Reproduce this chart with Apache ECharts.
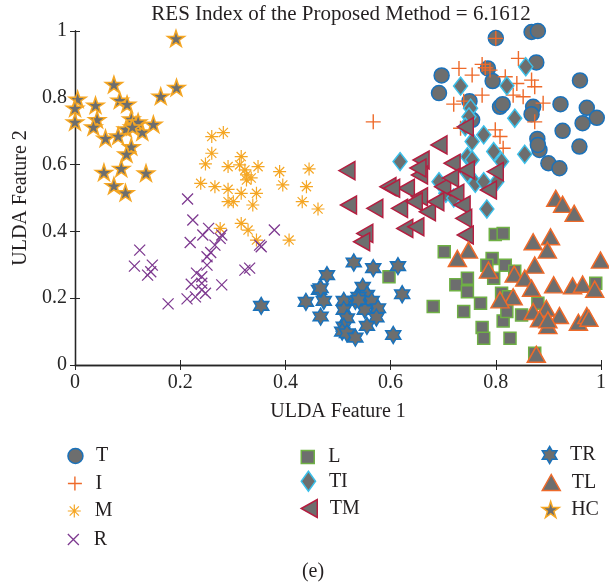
<!DOCTYPE html>
<html>
<head>
<meta charset="utf-8">
<script src="https://cdn.jsdelivr.net/npm/echarts@6/dist/echarts.min.js"></script>
<style>
  html, body { margin: 0; padding: 0; background: #ffffff; }
  #chart { width: 609px; height: 586px; }
</style>
</head>
<body>
<div id="chart"></div>
<script>
// ULDA feature scatter: one [feature1, feature2] pair per sample, grouped by class.
const T = [[0.800,0.979],[0.868,0.997],[0.880,1.000],[0.877,0.906],[0.785,0.888],[0.794,0.850],
  [0.697,0.867],[0.692,0.814],[0.750,0.790],[0.808,0.773],[0.813,0.781],[0.871,0.773],[0.868,0.751],
  [0.923,0.781],[0.960,0.852],[0.973,0.770],[0.992,0.740],[0.965,0.724],[0.927,0.701],[0.959,0.654],
  [0.879,0.677],[0.883,0.644],[0.900,0.604],[0.921,0.589],[0.755,0.734],[0.880,0.659]];
const I = [[0.800,0.978],[0.730,0.888],[0.755,0.868],[0.774,0.900],[0.780,0.890],[0.789,0.883],
  [0.843,0.918],[0.818,0.863],[0.840,0.843],[0.868,0.853],[0.874,0.833],[0.774,0.808],[0.852,0.803],
  [0.833,0.808],[0.720,0.781],[0.739,0.790],[0.890,0.784],[0.874,0.728],[0.799,0.704],[0.808,0.684],
  [0.814,0.649],[0.567,0.728],[0.733,0.709]];
const M = [[0.282,0.696],[0.260,0.684],[0.260,0.634],[0.248,0.602],[0.291,0.594],[0.316,0.624],
  [0.313,0.599],[0.323,0.584],[0.348,0.594],[0.326,0.554],[0.389,0.579],[0.395,0.539],[0.445,0.587],
  [0.440,0.534],[0.239,0.544],[0.266,0.534],[0.291,0.526],[0.316,0.514],[0.345,0.514],[0.291,0.489],
  [0.301,0.489],[0.338,0.479],[0.432,0.489],[0.462,0.467],[0.276,0.409],[0.316,0.424],[0.329,0.404],
  [0.345,0.374],[0.407,0.374],[0.335,0.560],[0.326,0.569]];
const R = [[0.214,0.497],[0.224,0.434],[0.219,0.367],[0.243,0.389],[0.254,0.409],[0.266,0.359],
  [0.276,0.379],[0.279,0.389],[0.251,0.324],[0.251,0.299],[0.231,0.275],[0.241,0.264],[0.221,0.242],
  [0.241,0.245],[0.248,0.215],[0.241,0.225],[0.229,0.204],[0.213,0.198],[0.279,0.240],[0.177,0.183],
  [0.123,0.344],[0.113,0.296],[0.147,0.299],[0.138,0.269],[0.144,0.279],[0.323,0.284],[0.332,0.290],
  [0.351,0.359],[0.354,0.354],[0.379,0.404],[0.258,0.337]];
const L = [[0.799,0.391],[0.814,0.394],[0.702,0.339],[0.793,0.319],[0.783,0.299],[0.818,0.299],
  [0.796,0.260],[0.746,0.260],[0.724,0.240],[0.746,0.219],[0.836,0.281],[0.811,0.215],[0.771,0.185],
  [0.681,0.175],[0.739,0.160],[0.824,0.204],[0.849,0.150],[0.814,0.132],[0.774,0.112],[0.777,0.080],
  [0.827,0.080],[0.880,0.185],[0.874,0.035],[0.990,0.245],[0.821,0.160],[0.597,0.264]];
const TI = [[0.857,0.893],[0.733,0.835],[0.821,0.836],[0.836,0.739],[0.752,0.769],[0.749,0.743],
  [0.777,0.689],[0.755,0.669],[0.796,0.639],[0.855,0.631],[0.746,0.624],[0.755,0.614],[0.811,0.609],
  [0.746,0.574],[0.802,0.549],[0.761,0.544],[0.777,0.549],[0.692,0.549],[0.705,0.514],[0.618,0.609],
  [0.783,0.467],[0.742,0.713],[0.720,0.500]];
const TM = [[0.517,0.582],[0.658,0.614],[0.655,0.569],[0.595,0.534],[0.630,0.529],[0.655,0.504],
  [0.602,0.529],[0.699,0.534],[0.724,0.514],[0.786,0.524],[0.520,0.479],[0.570,0.469],[0.617,0.469],
  [0.645,0.489],[0.670,0.459],[0.686,0.489],[0.736,0.479],[0.739,0.439],[0.742,0.389],[0.627,0.409],
  [0.648,0.414],[0.551,0.394],[0.545,0.369],[0.742,0.713],[0.692,0.659],[0.799,0.579],[0.717,0.604],
  [0.652,0.590],[0.714,0.560],[0.744,0.584]];
const TR = [[0.354,0.177],[0.530,0.307],[0.567,0.290],[0.614,0.296],[0.479,0.269],[0.464,0.225],
  [0.622,0.212],[0.439,0.189],[0.473,0.192],[0.547,0.234],[0.511,0.192],[0.533,0.192],[0.555,0.210],
  [0.564,0.192],[0.576,0.170],[0.511,0.165],[0.551,0.165],[0.467,0.145],[0.517,0.140],[0.573,0.142],
  [0.555,0.117],[0.511,0.115],[0.508,0.100],[0.517,0.095],[0.533,0.082],[0.605,0.090],[0.539,0.204],
  [0.467,0.230],[0.539,0.195]];
const TL = [[0.914,0.499],[0.927,0.481],[0.949,0.454],[0.871,0.369],[0.904,0.384],[0.898,0.344],
  [0.748,0.344],[0.727,0.319],[0.874,0.299],[0.999,0.314],[0.786,0.284],[0.835,0.272],[0.855,0.260],
  [0.868,0.230],[0.910,0.240],[0.946,0.237],[0.965,0.242],[0.988,0.227],[0.833,0.204],[0.808,0.195],
  [0.871,0.160],[0.896,0.170],[0.921,0.148],[0.883,0.138],[0.899,0.118],[0.957,0.128],[0.973,0.148],
  [0.877,0.032],[0.899,0.135],[0.977,0.140]];
const HC = [[0.192,0.978],[0.074,0.840],[0.193,0.831],[0.163,0.805],[0.005,0.796],[0.085,0.793],
  [0.039,0.778],[0.099,0.781],[0.000,0.769],[0.000,0.728],[0.042,0.735],[0.107,0.737],[0.035,0.713],
  [0.097,0.707],[0.116,0.719],[0.128,0.698],[0.149,0.721],[0.058,0.679],[0.082,0.686],[0.107,0.654],
  [0.098,0.632],[0.088,0.589],[0.055,0.577],[0.135,0.575],[0.074,0.537],[0.096,0.516],[0.120,0.728],
  [0.109,0.713]];

const classNames = ['T', 'I', 'M', 'R', 'L', 'TI', 'TM', 'TR', 'TL', 'HC'];
const classData = { T, I, M, R, L, TI, TM, TR, TL, HC };
const axisTicks = [0, 0.2, 0.4, 0.6, 0.8, 1];
const titleText = 'RES Index of the Proposed Method = 6.1612';

// Marker glyphs (MATLAB-like)
const GRAY = '#6d6e6e';
const SYM = {
  circle: 'circle',
  plus: 'path://M0,5L10,5M5,0L5,10',
  asterisk: 'path://M0,5L10,5M5,0L5,10M1.46,1.46L8.54,8.54M1.46,8.54L8.54,1.46',
  cross: 'path://M0,0L10,10M0,10L10,0',
  square: 'path://M0,0L10,0L10,10L0,10Z',
  diamond: 'path://M5,0L10,7L5,14L0,7Z',
  tleft: 'path://M0,9L16,0L16,18Z',
  tup: 'path://M9,0L18,16L0,16Z',
  hexagram: 'path://M10,0L12.887,5L18.66,5L15.774,10L18.66,15L12.887,15L10,20L7.113,15L1.34,15L4.226,10L1.34,5L7.113,5Z',
  pentagram: 'path://M10,0L12.245,6.91L19.511,6.91L13.633,11.18L15.878,18.09L10,13.82L4.122,18.09L6.367,11.18L0.489,6.91L7.755,6.91Z'
};

const styleOf = {
  T:  { symbol: SYM.circle,    size: [15, 15], fill: GRAY, edge: '#1a72bb', bw: 1.5, legendH: 15 },
  I:  { symbol: SYM.plus,      size: [15, 15], fill: 'transparent', edge: '#ee6a2a', bw: 1.4, legendH: 14 },
  M:  { symbol: SYM.asterisk,  size: [13, 13], fill: 'transparent', edge: '#f5a623', bw: 1.2, legendH: 13 },
  R:  { symbol: SYM.cross,     size: [11, 11], fill: 'transparent', edge: '#7e3a90', bw: 1.3, legendH: 11 },
  L:  { symbol: SYM.square,    size: [12, 12], fill: GRAY, edge: '#6fb045', bw: 1.5, legendH: 13 },
  TI: { symbol: SYM.diamond,   size: [14, 18], fill: GRAY, edge: '#3bc0ea', bw: 1.5, legendH: 20 },
  TM: { symbol: SYM.tleft,     size: [16, 18], fill: GRAY, edge: '#b41e40', bw: 1.5, legendH: 18 },
  TR: { symbol: SYM.hexagram,  size: [15, 17], fill: GRAY, edge: '#1a72bb', bw: 1.5, legendH: 17 },
  TL: { symbol: SYM.tup,       size: [18, 16], fill: GRAY, edge: '#ee6a2a', bw: 1.5, legendH: 16 },
  HC: { symbol: SYM.pentagram, size: [17, 16], fill: GRAY, edge: '#f5a623', bw: 1.5, legendH: 16 }
};

// Legend grid: three columns, rows filled top-down
const legendCols = [[82.7, ['T', 'I', 'M', 'R']], [316, ['L', 'TI', 'TM']], [557, ['TR', 'TL', 'HC']]];
const legendRows = [453.5, 480.5, 507.5, 535];

const FONT = 'Liberation Serif';
const INK = '#231f20';
const AXIS = '#262626';

const series = classNames.map(name => {
  const s = styleOf[name];
  return {
    name,
    type: 'scatter',
    data: classData[name],
    symbol: s.symbol,
    symbolSize: s.size,
    clip: false,
    silent: true,
    itemStyle: { color: s.fill, borderColor: s.edge, borderWidth: s.bw, opacity: 1 },
    emphasis: { disabled: true }
  };
});

const legends = [];
legendCols.forEach(([cx, names]) => {
  names.forEach((name, r) => {
    const s = styleOf[name];
    legends.push({
      data: [name],
      left: cx - 15.5,
      top: legendRows[r] - s.legendH / 2,
      orient: 'vertical',
      padding: 0,
      itemWidth: 31,
      itemHeight: s.legendH,
      selectedMode: false,
      symbolKeepAspect: true,
      itemStyle: { borderWidth: s.bw },
      textStyle: { fontFamily: FONT, fontSize: 20, color: INK }
    });
  });
});

const axisCommon = {
  type: 'value', min: 0, max: 1, interval: 0.2,
  axisLine: { show: true, lineStyle: { color: AXIS, width: 1.3 } },
  axisTick: { show: true, inside: true, length: 5, lineStyle: { color: AXIS, width: 1 } },
  splitLine: { show: false }
};
const labelStyle = {
  fontFamily: FONT, fontSize: 20, color: AXIS,
  formatter: v => (axisTicks.indexOf(+v.toFixed(1)) >= 0 ? String(+v.toFixed(1)) : '')
};

const chart = echarts.init(document.getElementById('chart'), null, { renderer: 'canvas' });
chart.setOption({
  animation: false,
  backgroundColor: '#ffffff',
  title: [
    { text: titleText, left: 341, top: 14, padding: 0, textAlign: 'center', textVerticalAlign: 'middle',
      textStyle: { fontFamily: FONT, fontSize: 21, fontWeight: 'normal', color: INK } },
    { text: '(e)', left: 313, top: 572, padding: 0, textAlign: 'center', textVerticalAlign: 'middle',
      textStyle: { fontFamily: FONT, fontSize: 20, fontWeight: 'normal', color: INK } }
  ],
  legend: legends,
  grid: { left: 75, top: 31, right: 2, bottom: 221, containLabel: false },
  xAxis: [
    Object.assign({}, axisCommon, {
      position: 'bottom',
      axisLabel: Object.assign({ margin: 8 }, labelStyle),
      name: 'ULDA Feature 1', nameLocation: 'middle', nameGap: 37,
      nameTextStyle: { fontFamily: FONT, fontSize: 20, color: INK }
    }),
    Object.assign({}, axisCommon, { position: 'top', axisLabel: { show: false } })
  ],
  yAxis: [
    Object.assign({}, axisCommon, {
      position: 'left',
      axisLabel: Object.assign({ margin: 8 }, labelStyle),
      name: 'ULDA Feature 2', nameLocation: 'middle', nameGap: 41,
      nameTextStyle: { fontFamily: FONT, fontSize: 20, color: INK }
    }),
    Object.assign({}, axisCommon, { position: 'right', axisLabel: { show: false } })
  ],
  series
});
</script>
</body>
</html>
